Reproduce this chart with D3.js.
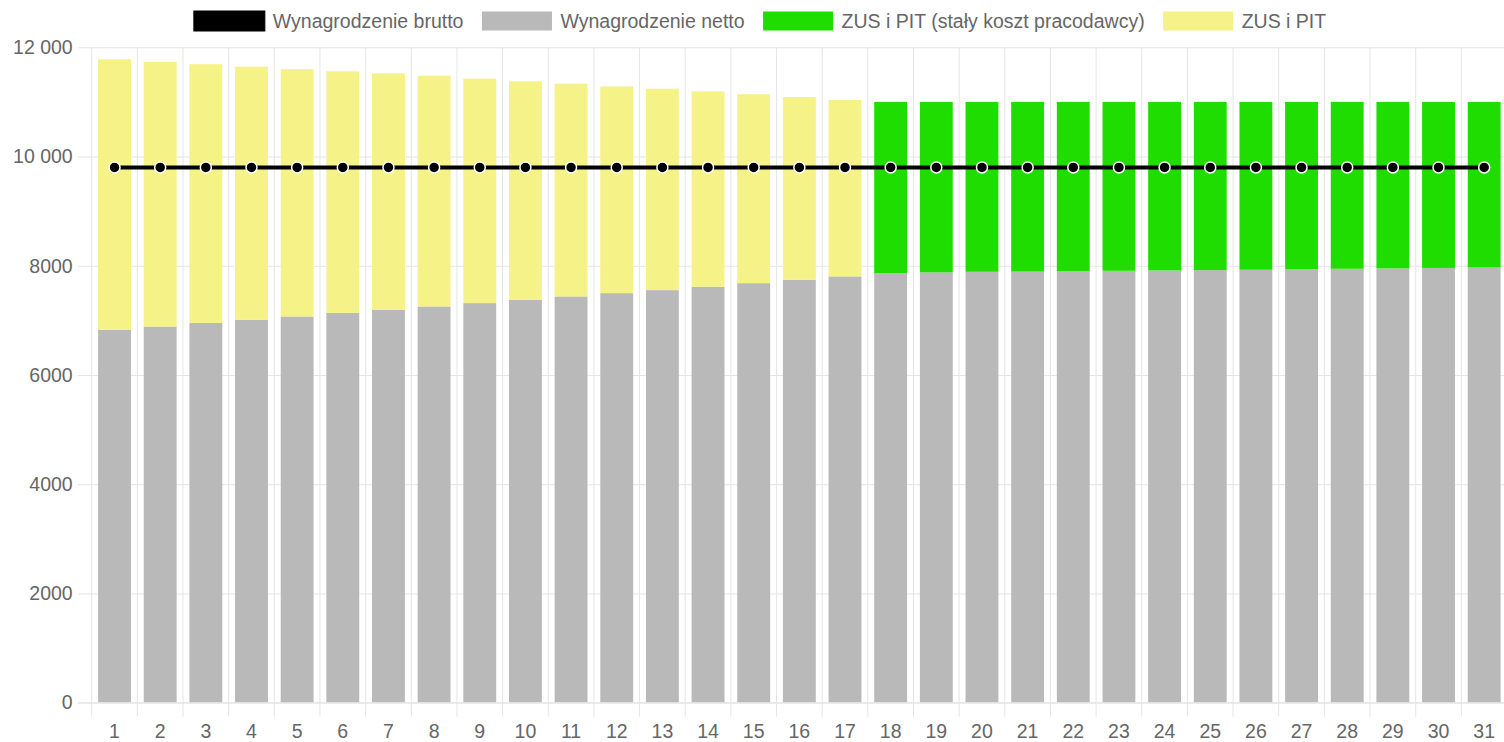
<!DOCTYPE html>
<html lang="pl">
  <head>
    <meta charset="UTF-8" />
    <title>Wynagrodzenie</title>
    <script src="https://d3js.org/d3.v7.min.js"></script>
    <style>
      body {
        margin: 0;
        background: #fff;
        font-family: "Liberation Sans", Arial, sans-serif;
      }
      text {
        fill: #666;
        font-family: "Liberation Sans", Arial, sans-serif;
        font-size: 19.5px;
      }
    </style>
  </head>
  <body>
    <svg width="1504" height="742"></svg>
    <script>
      const categories = ["1","2","3","4","5","6","7","8","9","10","11","12","13","14","15","16","17",
        "18","19","20","21","22","23","24","25","26","27","28","29","30","31"];

      const gross = [9800,9800,9800,9800,9800,9800,9800,9800,9800,9800,9800,9800,9800,9800,9800,9800,
        9800,9800,9800,9800,9800,9800,9800,9800,9800,9800,9800,9800,9800,9800,9800];

      const net = [6826,6888,6954,7009,7071,7138,7193,7255,7316,7376,7438,7499,7554,7615,7682,7743,7805,
        7866,7879,7890,7893,7900,7908,7915,7921,7927,7934,7945,7952,7960,7968];

      const zusPitFixed = [0,0,0,0,0,0,0,0,0,0,0,0,0,0,0,0,0,
        3134,3121,3110,3107,3100,3092,3085,3079,3073,3066,3055,3048,3040,3032];

      const zusPit = [4954,4844,4736,4636,4529,4422,4330,4226,4110,4000,3896,3785,3688,3578,3458,3345,3230,
        0,0,0,0,0,0,0,0,0,0,0,0,0,0];

      const yTicks = [0, 2000, 4000, 6000, 8000, 10000, 12000];
      const yTickLabels = ["0", "2000", "4000", "6000", "8000", "10 000", "12 000"];

      const legendItems = [
        { label: "Wynagrodzenie brutto", color: "#000000" },
        { label: "Wynagrodzenie netto", color: "#b9b9b9" },
        { label: "ZUS i PIT (stały koszt pracodawcy)", color: "#20dd00" },
        { label: "ZUS i PIT", color: "#f5f287" }
      ];

      const svg = d3.select("svg");
      const margin = { top: 47.3, right: -3, bottom: 39.3, left: 91.7 };
      const width = +svg.attr("width");
      const height = +svg.attr("height");

      const x = d3
        .scaleBand()
        .domain(categories)
        .range([margin.left, width - margin.right])
        .paddingInner(0.28)
        .paddingOuter(0.14);

      const xCat = d3
        .scaleBand()
        .domain(categories)
        .range([margin.left, width - margin.right]);

      const y = d3
        .scaleLinear()
        .domain([0, 12000])
        .range([height - margin.bottom, margin.top]);

      const grid = "#e5e5e5";

      // horizontal grid + y labels
      const yAxis = svg
        .append("g")
        .attr("transform", `translate(${margin.left},0)`)
        .call(
          d3.axisLeft(y)
            .tickValues(yTicks)
            .tickFormat((d, i) => yTickLabels[i])
            .tickSize(-(width - margin.right - margin.left))
            .tickSizeOuter(0)
            .tickPadding(19)
        );
      yAxis.select(".domain").remove();
      yAxis.selectAll("line").attr("stroke", grid).attr("x1", -14);
      yAxis.selectAll("text")
        .style("font-size", "19.5px")
        .style("font-family", "'Liberation Sans', Arial, sans-serif")
        .attr("fill", "#666");

      // vertical grid lines at category boundaries
      const bounds = categories.map((c) => xCat(c)).concat([width - margin.right]);
      svg
        .append("g")
        .selectAll("line")
        .data(bounds)
        .join("line")
        .attr("x1", (d) => d)
        .attr("x2", (d) => d)
        .attr("y1", margin.top)
        .attr("y2", y(0) + 14)
        .attr("stroke", grid);

      // stacked bars
      const rows = categories.map((c, i) => ({
        cat: c,
        net: net[i],
        fixed: zusPitFixed[i],
        zus: zusPit[i]
      }));
      const keys = ["net", "fixed", "zus"];
      const colors = { net: "#b9b9b9", fixed: "#20dd00", zus: "#f5f287" };
      const stacked = d3.stack().keys(keys)(rows);

      svg
        .append("g")
        .selectAll("g")
        .data(stacked)
        .join("g")
        .attr("fill", (s) => colors[s.key])
        .selectAll("rect")
        .data((s) => s.filter((d) => d[1] - d[0] > 0))
        .join("rect")
        .attr("x", (d) => x(d.data.cat))
        .attr("width", x.bandwidth())
        .attr("y", (d) => y(d[1]))
        .attr("height", (d) => y(d[0]) - y(d[1]));

      // bottom axis line
      svg
        .append("line")
        .attr("x1", margin.left - 14)
        .attr("x2", width)
        .attr("y1", y(0))
        .attr("y2", y(0))
        .attr("stroke", grid);

      // x labels
      svg
        .append("g")
        .selectAll("text")
        .data(categories)
        .join("text")
        .attr("x", (d) => xCat(d) + xCat.bandwidth() / 2)
        .attr("y", 731)
        .attr("text-anchor", "middle")
        .attr("dominant-baseline", "central")
        .text((d) => d);

      // gross line
      const cx = (i) => x(categories[i]) + x.bandwidth() / 2;
      svg
        .append("path")
        .datum(gross)
        .attr("fill", "none")
        .attr("stroke", "#000")
        .attr("stroke-width", 4)
        .attr("d", d3.line().x((d, i) => cx(i)).y((d) => y(d)));

      svg
        .append("g")
        .selectAll("circle")
        .data(gross)
        .join("circle")
        .attr("cx", (d, i) => cx(i))
        .attr("cy", (d) => y(d))
        .attr("r", 5.5)
        .attr("fill", "#000")
        .attr("stroke", "#fff")
        .attr("stroke-width", 1.5);

      // legend
      const legend = svg.append("g");
      const boxW = 71, boxH = 20, gapText = 8, gapItem = 18;
      let cursor = 0;
      legendItems.forEach((item) => {
        const g = legend.append("g").attr("transform", `translate(${cursor},0)`);
        g.append("rect")
          .attr("x", 0)
          .attr("y", 11)
          .attr("width", boxW)
          .attr("height", boxH)
          .attr("fill", item.color)
          .attr("stroke", item.color === "#000000" ? "#000" : "#fff")
          .attr("stroke-width", 1);
        const t = g.append("text")
          .attr("x", boxW + gapText)
          .attr("y", 21)
          .attr("dominant-baseline", "central")
          .text(item.label);
        cursor += boxW + gapText + t.node().getComputedTextLength() + gapItem;
      });
      const legendWidth = cursor - gapItem;
      legend.attr("transform", `translate(${760 - legendWidth / 2},0)`);
    </script>
  </body>
</html>
